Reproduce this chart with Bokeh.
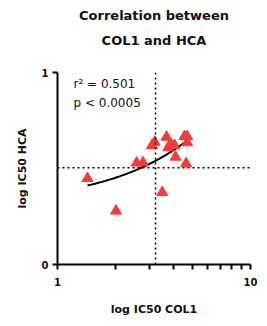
import numpy as np
from bokeh.plotting import figure
from bokeh.models import (ColumnDataSource, FixedTicker, Span, Label, BasicTickFormatter, Title)
from bokeh.embed import file_html
from bokeh.resources import INLINE

# data
col1 = [1.43, 2.01, 2.57, 2.77, 3.09, 3.19, 3.49, 3.67, 3.75, 3.85, 4.04, 4.09, 4.55, 4.70, 4.70, 4.64]
hca = [0.449, 0.279, 0.529, 0.531, 0.621, 0.638, 0.376, 0.664, 0.609, 0.630, 0.621, 0.560, 0.667, 0.667, 0.635, 0.526]
median_col1 = 3.22
median_hca = 0.504
x_ticks = [1, 10]
x_minor = [2, 3, 4, 5, 6, 7, 8, 9]
y_ticks = [0, 1]
title_lines = ["Correlation between", "COL1 and HCA"]
stats_lines = ["r\u00b2 = 0.501", "p < 0.0005"]

FONT = "DejaVu Sans"
TXT = "#111111"

p = figure(width=259, height=318, x_axis_type="log", x_range=(1, 10), y_range=(0, 1),
           output_backend="svg", toolbar_location=None, title=None,
           min_border_left=57, min_border_right=9, min_border_top=72, min_border_bottom=53)
p.outline_line_color = None
p.grid.visible = False

# spacer next to the frame, then the lower title line, then the upper one
p.add_layout(Title(text=" ", text_font_size="1px", standoff=18), "above")
for txt, so in ((title_lines[1], 8), (title_lines[0], 8)):
    p.add_layout(Title(text=txt, align="center", text_font=FONT, text_font_size="13px",
                       text_font_style="bold", text_color=TXT, standoff=so), "above")

for ax in (p.xaxis[0], p.yaxis[0]):
    ax.axis_line_width = 2
    ax.major_tick_line_width = 2
    ax.minor_tick_line_width = 2
    ax.major_tick_in = 0
    ax.major_tick_out = 5
    ax.minor_tick_in = 0
    ax.minor_tick_out = 5
    ax.major_label_text_font = FONT
    ax.major_label_text_font_style = "bold"
    ax.major_label_text_font_size = "10px"
    ax.major_label_text_color = TXT
    ax.axis_label_text_font = FONT
    ax.axis_label_text_font_style = "bold"
    ax.axis_label_text_font_size = "11px"
    ax.axis_label_text_color = TXT

p.xaxis.ticker = FixedTicker(ticks=x_ticks, minor_ticks=x_minor)
p.xaxis.formatter = BasicTickFormatter()
p.xaxis.major_label_overrides = {1: "1", 10: "10"}
p.xaxis.major_label_standoff = 8
p.xaxis.axis_label = "log IC50 COL1"
p.xaxis.axis_label_standoff = 14

p.yaxis.ticker = FixedTicker(ticks=y_ticks, minor_ticks=[])
p.yaxis.major_label_standoff = 4
p.yaxis.axis_label = "log IC50 HCA"
p.yaxis.axis_label_standoff = 10

p.add_layout(Span(location=median_col1, dimension="height", line_color="black",
                  line_dash="2 3", line_width=1.5))
p.add_layout(Span(location=median_hca, dimension="width", line_color="black",
                  line_dash="2 3", line_width=1.5))

# linear regression line
b, a = np.polyfit(col1, hca, 1)
xf = np.linspace(min(col1), max(col1), 50)
p.line(xf, a + b * xf, line_color="black", line_width=2)

src = ColumnDataSource(dict(x=col1, y=hca))
p.scatter("x", "y", source=src, marker="triangle", size=11,
          fill_color="#F23C3C", line_color="#F23C3C")

for i, t in enumerate(stats_lines):
    p.add_layout(Label(x=1.21, y=0.975 - i * 0.095, text=t, text_font=FONT,
                       text_font_size="12px", text_baseline="top", text_color=TXT))

open("out.html", "w").write(file_html(p, INLINE))
